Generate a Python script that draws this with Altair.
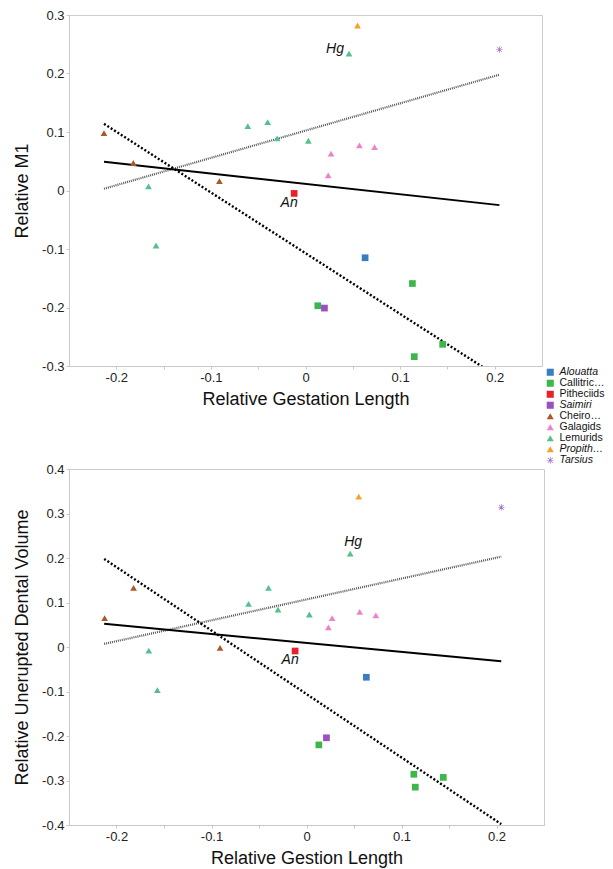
import altair as alt
import pandas as pd

# ---------------- data ----------------
groups = ["Alouatta", "Callitrichines", "Pitheciids", "Saimiri", "Cheirogaleid",
          "Galagids", "Lemurids", "Propithecus", "Tarsius"]
italic_groups = ["Alouatta", "Saimiri", "Propithecus", "Tarsius"]
colors = ["#3b7dc3", "#3db74b", "#e8222b", "#9b4fc0", "#a9582b",
          "#f27fc9", "#55c08b", "#f6a02b", "#a86cc8"]
ASTERISK = ("M1,0.1L1,-0.1L-1,-0.1L-1,0.1Z "
            "M-0.1,1L0.1,1L0.1,-1L-0.1,-1Z "
            "M0.636,0.778L0.778,0.636L-0.636,-0.778L-0.778,-0.636Z "
            "M-0.778,0.636L-0.636,0.778L0.778,-0.636L0.636,-0.778Z")
shapes = ["square"] * 4 + ["triangle-up"] * 4 + [ASTERISK]

# top panel: Relative M1
top_group = ["Cheirogaleid", "Cheirogaleid", "Cheirogaleid",
             "Lemurids", "Lemurids", "Lemurids", "Lemurids", "Lemurids", "Lemurids", "Lemurids",
             "Galagids", "Galagids", "Galagids", "Galagids",
             "Pitheciids", "Propithecus", "Tarsius",
             "Callitrichines", "Callitrichines", "Callitrichines", "Callitrichines",
             "Saimiri", "Alouatta"]
top_x = [-0.213, -0.182, -0.091,
         -0.166, -0.158, -0.061, -0.040, -0.030, 0.003, 0.046,
         0.027, 0.024, 0.057, 0.073,
         -0.012, 0.055, 0.205,
         0.013, 0.113, 0.145, 0.115,
         0.020, 0.063]
top_y = [0.098, 0.047, 0.016,
         0.007, -0.094, 0.110, 0.117, 0.089, 0.085, 0.234,
         0.063, 0.026, 0.077, 0.074,
         -0.005, 0.282, 0.241,
         -0.197, -0.159, -0.263, -0.284,
         -0.201, -0.115]

# bottom panel: Relative Unerupted Dental Volume
bot_group = top_group
bot_x = [-0.2125, -0.182, -0.091,
         -0.166, -0.157, -0.061, -0.040, -0.030, 0.003, 0.046,
         0.027, 0.023, 0.056, 0.073,
         -0.012, 0.055, 0.205,
         0.013, 0.113, 0.144, 0.1145,
         0.021, 0.063]
bot_y = [0.065, 0.133, -0.002,
         -0.008, -0.097, 0.097, 0.133, 0.084, 0.073, 0.210,
         0.065, 0.044, 0.079, 0.071,
         -0.009, 0.338, 0.314,
         -0.220, -0.286, -0.293, -0.315,
         -0.204, -0.068]

# regression lines (endpoints)
line_x = [-0.213, 0.205]
top_solid_y = [0.049, -0.025]
top_gray_y = [0.003, 0.198]
top_dot_y = [0.114, -0.320]
bot_solid_y = [0.052, -0.032]
bot_gray_y = [0.007, 0.203]
bot_dot_y = [0.198, -0.398]

# annotations
top_an = (-0.012, -0.005)
top_hg = (0.046, 0.234)
bot_an = (-0.012, -0.009)
bot_hg = (0.046, 0.210)

x_ticks = [-0.2, -0.15, -0.1, -0.05, 0, 0.05, 0.1, 0.15, 0.2]
top_yticks = [-0.3, -0.2, -0.1, 0, 0.1, 0.2, 0.3]
bot_yticks = [-0.4, -0.3, -0.2, -0.1, 0, 0.1, 0.2, 0.3, 0.4]

FONT = "Liberation Sans"

legend = alt.Legend(
    title=None, orient="none", legendX=476, legendY=352,
    labelFont=FONT, labelFontSize=10.5, labelColor="#111", labelLimit=46,
    symbolSize=50, rowPadding=-1, symbolStrokeWidth=0,
    labelFontStyle=alt.ExprRef(
        "indexof(['Alouatta','Saimiri','Propithecus','Tarsius'], datum.label) >= 0 ? 'italic' : 'normal'"),
)


def panel(gx, gy, gg, solid_y, gray_y, dot_y, an, hg, hg_style, an_style,
          ydom, yticks, xtitle, ytitle, w, h):
    pts = pd.DataFrame({"x": gx, "y": gy, "group": gg})
    xs = alt.Scale(domain=[-0.25, 0.25], nice=False)
    ys = alt.Scale(domain=ydom, nice=False)
    xax = alt.Axis(values=x_ticks, title=xtitle,
                   labelExpr="abs(round(datum.value*20)) % 2 == 1 ? '' : toString(round(datum.value*10)/10)")
    yax = alt.Axis(values=yticks, title=ytitle,
                   labelExpr="toString(round(datum.value*10)/10)")

    def line_layer(yv, **kw):
        d = pd.DataFrame({"x": line_x, "y": yv})
        return alt.Chart(d).mark_line(clip=True, **kw).encode(
            x=alt.X("x:Q", scale=xs, axis=xax), y=alt.Y("y:Q", scale=ys, axis=yax))

    solid = line_layer(solid_y, color="#000", strokeWidth=2)
    gray = line_layer(gray_y, color="#555", strokeWidth=2.2, strokeDash=[1, 1])
    dots = line_layer(dot_y, color="#000", strokeWidth=2.4, strokeDash=[2, 2])

    points = alt.Chart(pts).mark_point(filled=True, opacity=1, size=45).encode(
        x=alt.X("x:Q", scale=xs, axis=xax),
        y=alt.Y("y:Q", scale=ys, axis=yax),
        color=alt.Color("group:N", scale=alt.Scale(domain=groups, range=colors), legend=legend),
        shape=alt.Shape("group:N", scale=alt.Scale(domain=groups, range=shapes), legend=legend),
    )

    def label(txt, pos, **kw):
        d = pd.DataFrame({"x": [pos[0]], "y": [pos[1]], "t": [txt]})
        return alt.Chart(d).mark_text(font=FONT, fontSize=14, fontStyle="italic",
                                      color="#111", **kw).encode(
            x=alt.X("x:Q", scale=xs, axis=xax), y=alt.Y("y:Q", scale=ys, axis=yax), text="t:N")

    return alt.layer(gray, dots, solid, points,
                     label("An", an, **an_style), label("Hg", hg, **hg_style)
                     ).properties(width=w, height=h)


top = panel(top_x, top_y, top_group, top_solid_y, top_gray_y, top_dot_y,
            top_an, top_hg, dict(align="right", dx=-5, dy=-5), dict(align="center", dx=-5, dy=10),
            [-0.3, 0.3], top_yticks, "Relative Gestation Length", "Relative M1", 473, 351)
bottom = panel(bot_x, bot_y, bot_group, bot_solid_y, bot_gray_y, bot_dot_y,
               bot_an, bot_hg, dict(align="center", dx=3, dy=-12), dict(align="center", dx=-5, dy=9),
               [-0.4, 0.4], bot_yticks, "Relative Gestion Length", "Relative Unerupted Dental Volume", 475, 356)

chart = alt.vconcat(top, bottom, spacing=103, bounds="flush").properties(
    padding={"left": 5, "top": 0, "right": 0, "bottom": 0}
).configure_view(stroke="#cccccc", strokeWidth=1).configure_axis(
    grid=False, domainColor="#c8c8c8", tickColor="#c8c8c8", tickSize=3,
    labelFont=FONT, labelFontSize=13, labelColor="#222", labelPadding=2,
    titleFont=FONT, titleFontSize=18, titleFontWeight="normal", titleColor="#111",
).configure_axisX(titlePadding=6).configure_axisY(titlePadding=10)

chart.save("out.html", embed_options={"renderer": "svg", "actions": False})
